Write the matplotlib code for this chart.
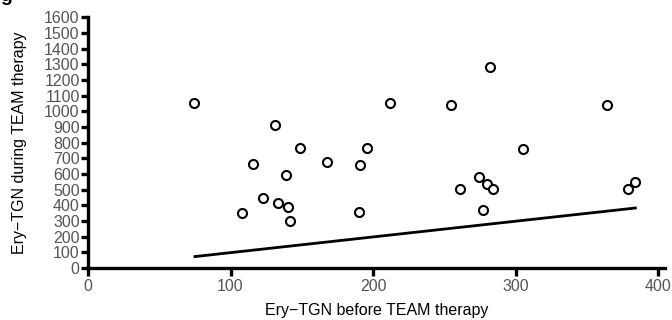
import matplotlib
matplotlib.use("Agg")
import matplotlib.pyplot as plt

plt.rcParams['font.family'] = ['Liberation Sans', 'DejaVu Sans']

# Ery-TGN values (before vs during TEAM therapy)
before = [74, 131, 149, 116, 168, 191, 196, 139, 123, 133, 140, 108, 142, 190,
          212, 255, 282, 305, 274, 280, 261, 284, 277, 364, 379, 384]
during = [1055, 914, 765, 665, 674, 654, 765, 595, 443, 411, 388, 352, 296, 358,
          1051, 1040, 1281, 759, 578, 535, 505, 501, 369, 1042, 501, 548]

# reference line
line_x = [75, 384]
line_y = [72, 382]

fig = plt.figure(figsize=(6.72, 3.2), dpi=100)
ax = fig.add_axes([0.131, 0.163, 0.859, 0.783])

ax.plot(line_x, line_y, color="black", linewidth=2)
ax.plot(before, during, "o", markersize=6.5, markerfacecolor="white",
        markeredgecolor="black", markeredgewidth=1.5, linestyle="none", clip_on=False)

ax.set_xlim(0, 405)
ax.set_ylim(0, 1600)
ax.set_xticks([0, 100, 200, 300, 400])
ax.set_yticks(range(0, 1700, 100))

for s in ["top", "right"]:
    ax.spines[s].set_visible(False)
for s in ["left", "bottom"]:
    ax.spines[s].set_linewidth(2.4)
ax.tick_params(axis="both", width=2.4, length=5, labelsize=11.5, labelcolor="#555555", pad=1)
ax.tick_params(axis="x", length=6, pad=2)

ax.set_xlabel("Ery\u2212TGN before TEAM therapy", fontsize=11.5)
ax.set_ylabel("Ery\u2212TGN during TEAM therapy", fontsize=11.5)
ax.xaxis.set_label_coords(0.5, -0.14)
ax.yaxis.set_label_coords(-0.106, 0.5)

fig.text(0.0, 1.01, "g", fontsize=14, fontweight="bold", va="center")

fig.savefig("out.png", dpi=100)
